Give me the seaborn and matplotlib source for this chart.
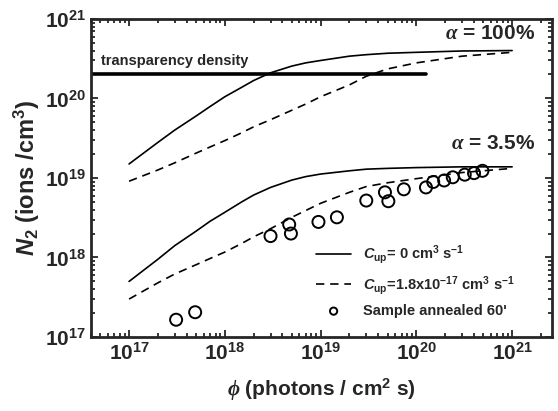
# N2 vs photon flux for two alpha values, with and without upconversion.

import pandas as pd
import matplotlib
matplotlib.use("Agg")
import matplotlib.pyplot as plt
import seaborn as sns

phi = [1e17, 2e17, 3e17, 5e17, 7e17, 1e18, 1.5e18, 2e18, 3e18, 5e18, 7e18,
       1e19, 2e19, 3e19, 5e19, 1e20, 3e20, 1e21]

n2_100_c0 = [1.5e19, 2.8e19, 4.0e19, 6.0e19, 7.9e19, 1.05e20, 1.38e20, 1.68e20,
             2.1e20, 2.55e20, 2.8e20, 3.0e20, 3.4e20, 3.55e20, 3.7e20, 3.8e20,
             3.95e20, 4.0e20]
n2_100_cup = [9.1e18, 1.26e19, 1.55e19, 2.05e19, 2.45e19, 2.95e19, 3.7e19, 4.4e19,
              5.4e19, 7.1e19, 8.5e19, 1.05e20, 1.48e20, 1.9e20, 2.35e20, 2.8e20,
              3.4e20, 3.8e20]
n2_35_c0 = [5.0e17, 9.5e17, 1.41e18, 2.14e18, 2.85e18, 3.7e18, 5.0e18, 6.1e18,
            7.6e18, 9.4e18, 1.04e19, 1.12e19, 1.23e19, 1.29e19, 1.32e19, 1.35e19,
            1.38e19, 1.38e19]
n2_35_cup = [3.0e17, 4.8e17, 6.2e17, 8.1e17, 9.7e17, 1.17e18, 1.5e18, 1.82e18,
             2.3e18, 3.2e18, 3.9e18, 4.8e18, 6.6e18, 7.8e18, 8.7e18, 9.8e18,
             1.17e19, 1.32e19]

sample_phi = [3.1e17, 4.9e17, 3.0e18, 4.7e18, 4.9e18, 9.5e18, 1.48e19, 3.0e19,
              4.7e19, 5.1e19, 7.4e19, 1.26e20, 1.5e20, 1.95e20, 2.4e20,
              3.2e20, 4.0e20, 4.9e20]
sample_n2 = [1.65e17, 2.05e17, 1.86e18, 2.6e18, 2.0e18, 2.8e18, 3.2e18, 5.2e18,
             6.6e18, 5.1e18, 7.2e18, 7.6e18, 8.9e18, 9.3e18, 1.02e19,
             1.1e19, 1.15e19, 1.23e19]

transp_phi = [4e16, 1.25e20]
transp_n2 = [2e20, 2e20]

sns.set_style("ticks")
plt.rcParams["font.family"] = ["Liberation Sans", "DejaVu Sans"]
plt.rcParams["font.weight"] = "bold"
plt.rcParams["axes.labelweight"] = "bold"
plt.rcParams["mathtext.fontset"] = "custom"
plt.rcParams["mathtext.rm"] = "Liberation Sans:bold"
plt.rcParams["mathtext.it"] = "Liberation Sans:italic:bold"
plt.rcParams["mathtext.bf"] = "Liberation Sans:bold"
plt.rcParams["mathtext.sf"] = "Liberation Serif:italic"

fig = plt.figure(figsize=(5.58, 4.11), dpi=100)
ax = fig.add_axes([0.163, 0.180, 0.826, 0.774])

dash = (0, (5, 3.5))
sns.lineplot(x=phi, y=n2_100_c0, ax=ax, color="black", lw=1.2)
sns.lineplot(x=phi, y=n2_100_cup, ax=ax, color="black", lw=1.2, linestyle=dash)
l1 = sns.lineplot(x=phi, y=n2_35_c0, ax=ax, color="black", lw=1.2).lines[-1]
l2 = sns.lineplot(x=phi, y=n2_35_cup, ax=ax, color="black", lw=1.2,
                  linestyle=dash).lines[-1]
sns.lineplot(x=transp_phi, y=transp_n2, ax=ax, color="black", lw=2.6)
sns.scatterplot(x=sample_phi, y=sample_n2, ax=ax, marker="o", s=75,
                facecolor="none", edgecolor="black", linewidth=1.4)
sc = ax.collections[-1]

ax.set_xscale("log")
ax.set_yscale("log")
ax.set_xlim(4e16, 2.6e21)
ax.set_ylim(1e17, 1e21)

ax.tick_params(which="both", direction="in", top=True, right=True,
               labelsize=15, width=1.3)
ax.tick_params(which="major", length=5)
ax.tick_params(which="minor", length=3)
for s in ax.spines.values():
    s.set_linewidth(2)
    s.set_visible(True)

ax.set_xlabel(r"$\mathsf{\phi}$ (photons / cm$^2$ s)", fontsize=15, labelpad=9)
ax.set_ylabel(r"$N_{\rm 2}$ (ions /cm$^3$)", fontsize=17, labelpad=2)

ax.text(5.1e16, 2.4e20, "transparency density", fontsize=10.5, va="bottom")
ax.text(1.74e21, 6.6e20, r"$\mathsf{\alpha}$ = 100%", fontsize=15,
        ha="right", va="center")
ax.text(1.74e21, 2.75e19, r"$\mathsf{\alpha}$ = 3.5%", fontsize=15,
        ha="right", va="center")

ax.legend([l1, l2, sc],
          [r"$C_{\rm up}$= 0 cm$^3$ s$^{-1}$",
           r"$C_{\rm up}$=1.8x10$^{-17}$ cm$^3$ s$^{-1}$",
           "Sample annealed 60'"],
          loc="upper left", bbox_to_anchor=(0.46, 0.335), frameon=False,
          fontsize=10.5, handlelength=2.4, labelspacing=0.5, markerscale=0.6)

plt.savefig("out.png", dpi=100)
